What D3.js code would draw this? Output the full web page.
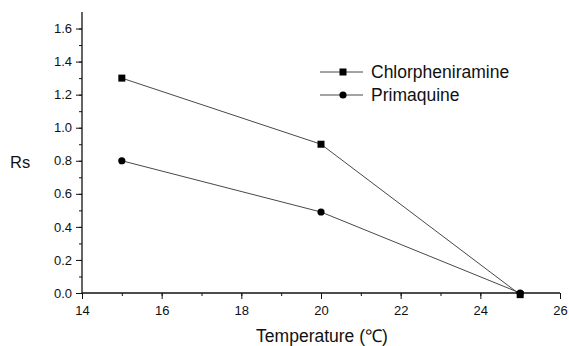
<!DOCTYPE html>
<html>
<head>
<meta charset="utf-8">
<script src="https://cdn.jsdelivr.net/npm/d3@7"></script>
<style>
  body { margin: 0; background: #fff; }
  svg text { font-family: "Liberation Sans", Arial, sans-serif; fill: #111; }
</style>
</head>
<body>
<svg id="chart" width="569" height="346"></svg>
<script>
// data
const temps = [15, 20, 25];
const chlorpheniramine = [1.3, 0.9, -0.01];
const primaquine = [0.8, 0.49, 0.0];
const seriesNames = ["Chlorpheniramine", "Primaquine"];
const xTicks = [14, 16, 18, 20, 22, 24, 26];
const yTicks = [0.0, 0.2, 0.4, 0.6, 0.8, 1.0, 1.2, 1.4, 1.6];

const svg = d3.select("#chart");
const x = d3.scaleLinear().domain([14, 26]).range([82, 560]);
const y = d3.scaleLinear().domain([0, 1.7]).range([293, 12]);

// y axis
const yAxis = svg.append("g").attr("transform", "translate(82,0)");
yAxis.call(d3.axisLeft(y).tickValues(d3.range(0, 17).map(d => d / 10)).tickSize(3).tickFormat(""));
const yMajor = svg.append("g").attr("transform", "translate(82,0)")
  .call(d3.axisLeft(y).tickValues(yTicks).tickSize(6).tickPadding(4).tickFormat(d3.format(".1f")));
yMajor.selectAll("text").attr("font-size", 13);
svg.append("line").attr("x1", 82).attr("x2", 82).attr("y1", y(1.7)).attr("y2", y(0))
  .attr("stroke", "#111").attr("stroke-width", 1.3);

// x axis
const xAxis = svg.append("g").attr("transform", "translate(0,293)");
xAxis.call(d3.axisBottom(x).tickValues(d3.range(14, 27, 1)).tickSize(3).tickFormat(""));
const xMajor = svg.append("g").attr("transform", "translate(0,293)")
  .call(d3.axisBottom(x).tickValues(xTicks).tickSize(6).tickPadding(7).tickFormat(d3.format("d")));
xMajor.selectAll("text").attr("font-size", 13);
svg.append("line").attr("x1", x(14)).attr("x2", x(26)).attr("y1", 293).attr("y2", 293)
  .attr("stroke", "#111").attr("stroke-width", 1.3);
svg.selectAll(".domain").remove();
svg.selectAll(".tick line").attr("stroke", "#111").attr("stroke-width", 1);

// axis titles
svg.append("text").attr("x", 10).attr("y", 168).attr("font-size", 16.5).text("Rs");
svg.append("text").attr("x", 322).attr("y", 342).attr("text-anchor", "middle")
  .attr("font-size", 17.5).text("Temperature (℃)");

// series
const line = d3.line().x(d => x(d[0])).y(d => y(d[1]));
const dataC = temps.map((t, i) => [t, chlorpheniramine[i]]);
const dataP = temps.map((t, i) => [t, primaquine[i]]);

[dataC, dataP].forEach(data => {
  svg.append("path").datum(data).attr("d", line)
    .attr("fill", "none").attr("stroke", "#333").attr("stroke-width", 0.9);
});

svg.selectAll(".sq").data(dataC).join("rect").attr("class", "sq")
  .attr("x", d => x(d[0]) - 3.5).attr("y", d => y(d[1]) - 3.5)
  .attr("width", 7).attr("height", 7).attr("fill", "#000");
svg.selectAll(".ci").data(dataP).join("circle").attr("class", "ci")
  .attr("cx", d => x(d[0])).attr("cy", d => y(d[1])).attr("r", 3.6).attr("fill", "#000");

// legend
const leg = svg.append("g");
seriesNames.forEach((name, i) => {
  const cy = 72 + i * 23;
  leg.append("line").attr("x1", 320).attr("x2", 363).attr("y1", cy).attr("y2", cy)
    .attr("stroke", "#333").attr("stroke-width", 0.9);
  if (i === 0) {
    leg.append("rect").attr("x", 339.5).attr("y", cy - 3.5).attr("width", 7).attr("height", 7).attr("fill", "#000");
  } else {
    leg.append("circle").attr("cx", 343).attr("cy", cy).attr("r", 3.6).attr("fill", "#000");
  }
  leg.append("text").attr("x", 371).attr("y", cy + 6).attr("font-size", 17.5).text(name);
});
</script>
</body>
</html>
